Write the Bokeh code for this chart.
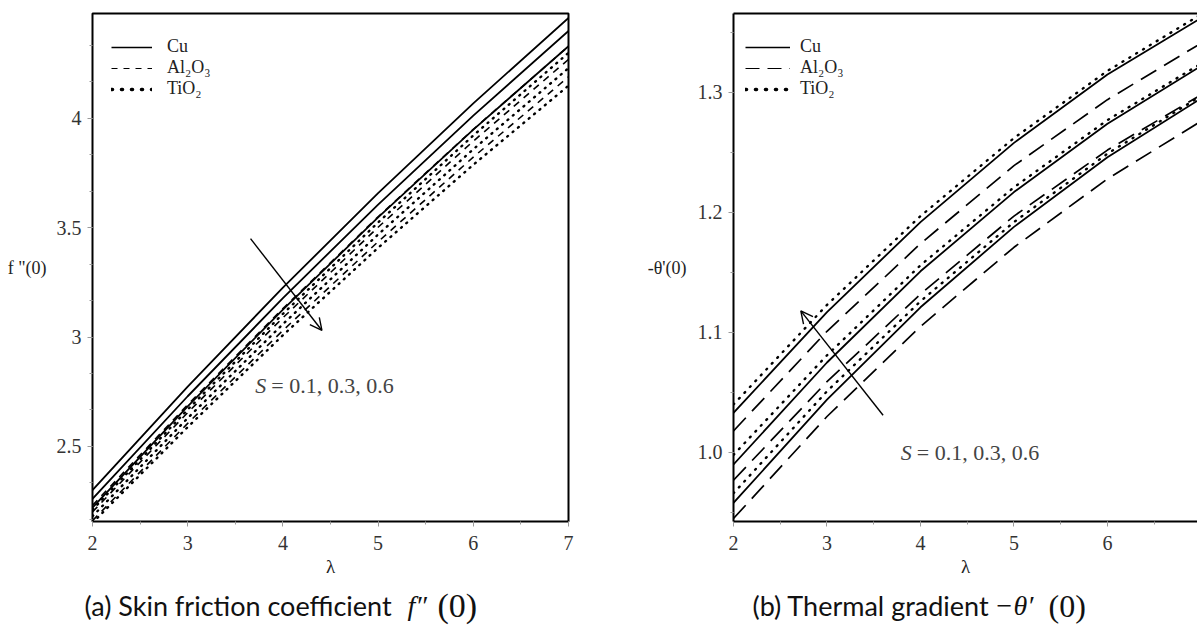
from bokeh.plotting import figure
from bokeh.layouts import row, column
from bokeh.models import (Range1d, SingleIntervalTicker, FixedTicker, NumeralTickFormatter, Label,
                          Arrow, OpenHead, Legend, LegendItem, LinearAxis)
from bokeh.embed import file_html
from bokeh.resources import INLINE

# ---------------- data ----------------
lam = [2, 3, 4, 5, 6, 7]
S_values = [0.1, 0.3, 0.6]

# (a) skin friction f''(0)
f_cu = {0.1: [2.30, 2.773, 3.226, 3.658, 4.069, 4.46],
        0.3: [2.26, 2.729, 3.178, 3.606, 4.013, 4.40],
        0.6: [2.22, 2.683, 3.125, 3.547, 3.949, 4.33]}
f_al = {0.1: [2.23, 2.690, 3.130, 3.550, 3.950, 4.33],
        0.3: [2.20, 2.654, 3.088, 3.502, 3.896, 4.27],
        0.6: [2.16, 2.605, 3.030, 3.436, 3.823, 4.19]}
f_ti = {0.1: [2.21, 2.668, 3.106, 3.524, 3.922, 4.30],
        0.3: [2.18, 2.629, 3.059, 3.469, 3.859, 4.23],
        0.6: [2.15, 2.588, 3.008, 3.408, 3.788, 4.15]}

# (b) thermal gradient -theta'(0)
t_cu = {0.1: [0.958, 1.044, 1.121, 1.188, 1.246, 1.295],
        0.3: [0.990, 1.075, 1.151, 1.217, 1.274, 1.322],
        0.6: [1.033, 1.117, 1.192, 1.258, 1.315, 1.362]}
t_al = {0.1: [0.945, 1.030, 1.105, 1.171, 1.228, 1.276],
        0.3: [0.977, 1.059, 1.132, 1.197, 1.252, 1.298],
        0.6: [1.018, 1.101, 1.174, 1.239, 1.294, 1.341]}
t_ti = {0.1: [0.966, 1.051, 1.126, 1.192, 1.249, 1.297],
        0.3: [0.998, 1.081, 1.156, 1.221, 1.277, 1.324],
        0.6: [1.040, 1.123, 1.197, 1.262, 1.318, 1.365]}

fluid_labels = ["Cu", "Al\u2082O\u2083", "TiO\u2082"]
s_label = "= 0.1, 0.3, 0.6"
NAN = float("nan")

SERIF = "Liberation Serif"
TICK_COLOR = "#9a9a9a"


def style_axes(p, yfmt, ylabel):
    for ax in (p.xaxis[0], p.yaxis[0]):
        ax.major_label_text_font = SERIF
        ax.major_label_text_font_size = "20px"
        ax.major_label_text_color = "#333333"
        ax.major_tick_line_color = TICK_COLOR
        ax.minor_tick_line_color = TICK_COLOR
        ax.major_tick_in = 0
        ax.major_tick_out = 5
        ax.minor_tick_in = 0
        ax.minor_tick_out = 3
        ax.axis_label_text_font = SERIF
        ax.axis_label_text_font_size = "19px"
        ax.axis_label_text_font_style = "normal"
        ax.axis_label_text_color = "#222222"
    p.xaxis[0].major_label_standoff = 9
    p.yaxis[0].major_label_standoff = 6
    p.xaxis[0].axis_label = "\u03bb"
    p.xaxis[0].axis_label_standoff = 3
    p.yaxis[0].axis_label = ylabel
    p.yaxis[0].axis_label_orientation = "horizontal"
    p.yaxis[0].axis_label_standoff = 7
    p.yaxis[0].axis_label_text_font_size = "18px"
    p.yaxis[0].formatter = NumeralTickFormatter(format=yfmt)
    p.xgrid.visible = False
    p.ygrid.visible = False


def add_legend(p, dash_al, dash_ti, loc_x, glyph_w, standoff):
    r1 = p.line([NAN], [NAN], line_color="black", line_width=1.6)
    r2 = p.line([NAN], [NAN], line_color="black", line_width=1.2, line_dash=dash_al)
    r3 = p.line([NAN], [NAN], line_color="black", line_width=3.6, line_dash=dash_ti, line_cap="round")
    leg = Legend(items=[LegendItem(label=fluid_labels[0], renderers=[r1]),
                        LegendItem(label=fluid_labels[1], renderers=[r2]),
                        LegendItem(label=fluid_labels[2], renderers=[r3])],
                 location=(loc_x, 422), margin=0, padding=5, spacing=0,
                 label_height=16, glyph_height=16, glyph_width=glyph_w, label_standoff=standoff,
                 label_text_font=SERIF, label_text_font_size="18px",
                 label_text_color="#222222",
                 border_line_color=None, background_fill_alpha=0)
    p.add_layout(leg)


# ---------------- (a) ----------------
p1 = figure(width=598, height=584, output_backend="svg", toolbar_location=None,
            x_range=Range1d(2, 7), y_range=Range1d(2.156, 4.48),
            min_border_left=92, min_border_right=30, min_border_top=13, min_border_bottom=63)
p1.outline_line_color = "black"
p1.outline_line_width = 2
p1.xaxis.ticker = SingleIntervalTicker(interval=1, num_minor_ticks=2)
p1.yaxis.ticker = SingleIntervalTicker(interval=0.5, num_minor_ticks=3)
p1.xaxis.axis_line_color = None
p1.yaxis.axis_line_color = None
style_axes(p1, "0.[0]", 'f "(0)')

for s in S_values:
    p1.line(lam, f_cu[s], line_color="black", line_width=1.8)
    p1.line(lam, f_al[s], line_color="black", line_width=1.6, line_dash="7 6")
    p1.line(lam, f_ti[s], line_color="black", line_width=2.4, line_dash="1 6", line_cap="round")

add_legend(p1, "6 6", "1 9", 19, 41, 15)

p1.add_layout(Arrow(end=OpenHead(size=12, line_width=1.4, line_color="black"),
                    x_start=3.66, y_start=3.45, x_end=4.41, y_end=3.03,
                    line_width=1.4, line_color="black"))
p1.add_layout(Label(x=3.71, y=2.78, text="S", text_font=SERIF, text_font_size="22px",
                    text_font_style="italic", text_baseline="middle"))
p1.add_layout(Label(x=3.71, y=2.78, x_offset=16, text=s_label, text_font=SERIF,
                    text_font_size="22px", text_baseline="middle"))

# ---------------- (b) ----------------
p2 = figure(width=599, height=584, output_backend="svg", toolbar_location=None,
            x_range=Range1d(2, 6.963), y_range=Range1d(0.9425, 1.3658),
            min_border_left=135, min_border_right=0, min_border_top=13, min_border_bottom=63)
p2.outline_line_color = None
p2.xaxis.ticker = SingleIntervalTicker(interval=1, num_minor_ticks=2)
p2.yaxis.ticker = SingleIntervalTicker(interval=0.1, num_minor_ticks=2)
p2.xaxis.axis_line_color = "black"
p2.xaxis.axis_line_width = 2
p2.yaxis.axis_line_color = "black"
p2.yaxis.axis_line_width = 2
style_axes(p2, "0.0", "-\u03b8'(0)")
p2.yaxis[0].axis_label_standoff = 8
top_ax = LinearAxis(ticker=FixedTicker(ticks=[]), major_tick_line_color=None,
                    minor_tick_line_color=None, axis_line_color="black", axis_line_width=2)
p2.add_layout(top_ax, "above")

for s in S_values:
    p2.line(lam, t_cu[s], line_color="black", line_width=1.8)
    p2.line(lam, t_al[s], line_color="black", line_width=1.7, line_dash="18 9")
    p2.line(lam, t_ti[s], line_color="black", line_width=2.4, line_dash="1 7", line_cap="round")

add_legend(p2, "14 8", "1 9", 12, 45, 10)

p2.add_layout(Arrow(end=OpenHead(size=12, line_width=1.4, line_color="black"),
                    x_start=3.60, y_start=1.031, x_end=2.72, y_end=1.118,
                    line_width=1.4, line_color="black"))
p2.add_layout(Label(x=3.79, y=1.0, text="S", text_font=SERIF, text_font_size="22px",
                    text_font_style="italic", text_baseline="middle"))
p2.add_layout(Label(x=3.79, y=1.0, x_offset=16, text=s_label, text_font=SERIF,
                    text_font_size="22px", text_baseline="middle"))

# ---------------- captions strip ----------------
cap = figure(width=1197, height=42, output_backend="svg", toolbar_location=None,
             x_range=Range1d(0, 1197), y_range=Range1d(0, 42),
             min_border=0, min_border_left=0, min_border_right=0,
             min_border_top=0, min_border_bottom=0)
cap.axis.visible = False
cap.xgrid.visible = False
cap.ygrid.visible = False
cap.outline_line_color = None


def caption(x_text, text, x_sym, sym, sym_size, x_par, par_size):
    cap.add_layout(Label(x=x_text, y=21, text=text, text_font="Lato", text_font_size="27px",
                         text_baseline="middle", text_color="#111111"))
    cap.add_layout(Label(x=x_sym, y=21, text=sym, text_font=SERIF, text_font_style="italic",
                         text_font_size=sym_size, text_baseline="middle", text_color="#111111"))
    cap.add_layout(Label(x=x_par, y=21, text="(0)", text_font=SERIF, text_font_size=par_size,
                         text_baseline="middle", text_color="#111111"))


caption(84, "(a) Skin friction coefficient", 407, "f\u2033", "28px", 437, "34px")
caption(752, "(b) Thermal gradient", 994, "\u2212\u03b8\u2032", "28px", 1048, "32px")

layout = column(row(p1, p2, spacing=0), cap, spacing=0)
open("out.html", "w").write(file_html(layout, INLINE))
